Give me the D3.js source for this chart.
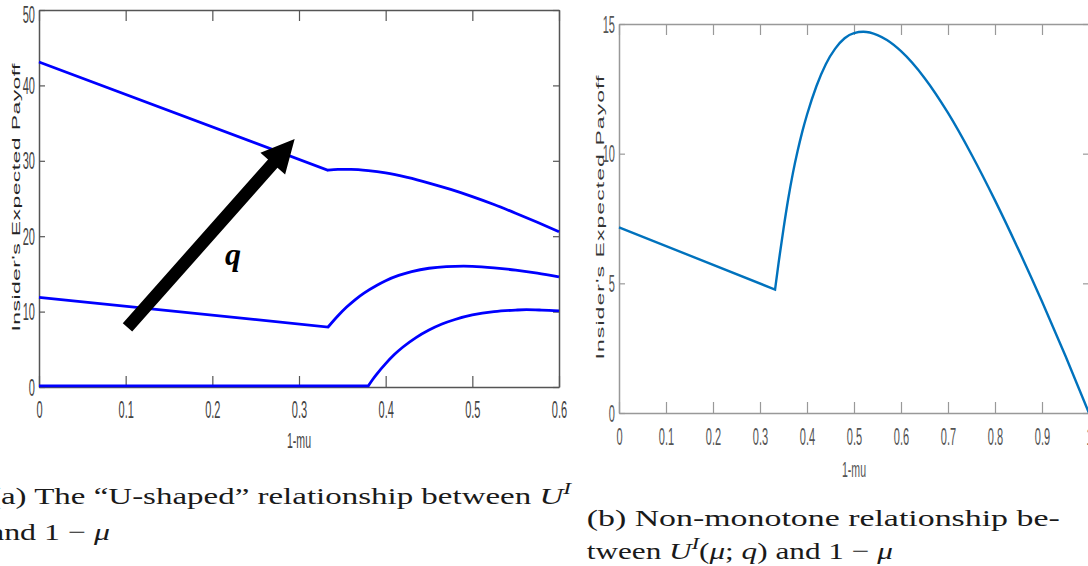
<!DOCTYPE html>
<html><head><meta charset="utf-8">
<script src="https://cdn.jsdelivr.net/npm/d3@7"></script>
<style>html,body{margin:0;padding:0;background:#fff;overflow:hidden}text{white-space:pre}</style>
</head><body><svg id="c" width="1088" height="566"></svg>
<script>
// ---------- data ----------
const xTicksA = [0, 0.1, 0.2, 0.3, 0.4, 0.5, 0.6];
const yTicksA = [0, 10, 20, 30, 40, 50];
const xTicksB = [0, 0.1, 0.2, 0.3, 0.4, 0.5, 0.6, 0.7, 0.8, 0.9, 1];
const yTicksB = [0, 5, 10, 15];
const xTitle = "1-mu";
const yTitle = "Insider's Expected Payoff";

// panel (a): three curves for increasing q  [1-mu, payoff]
const seriesTop = [[0,43.1],[0.3335,28.75],[0.345,28.85],[0.36,28.85],[0.38,28.7],[0.4,28.4],[0.425,27.8],[0.45,27.05],[0.475,26.2],[0.5,25.25],[0.525,24.2],[0.55,23.05],[0.575,21.85],[0.6,20.6]];
const seriesMid = [[0,11.9],[0.3335,7.95],[0.345,9.45],[0.355,10.6],[0.365,11.6],[0.375,12.45],[0.39,13.5],[0.4,14.1],[0.415,14.8],[0.43,15.3],[0.45,15.75],[0.47,15.97],[0.49,16.03],[0.5,16.0],[0.525,15.8],[0.55,15.5],[0.575,15.1],[0.6,14.6]];
const seriesLow = [[0,0.15],[0.38,0.15],[0.385,1.0],[0.39,1.75],[0.4,3.1],[0.41,4.3],[0.42,5.3],[0.435,6.55],[0.45,7.55],[0.465,8.35],[0.48,8.95],[0.5,9.55],[0.525,10.0],[0.55,10.2],[0.5625,10.25],[0.58,10.2],[0.6,10.1]];
// panel (b)
const seriesB = [[0,7.16],[0.332,4.76],[0.34,5.85],[0.35,7.1],[0.36,8.25],[0.37,9.25],[0.38,10.1],[0.39,10.85],[0.4,11.5],[0.42,12.6],[0.44,13.45],[0.46,14.05],[0.48,14.45],[0.5,14.65],[0.52,14.7],[0.55,14.57],[0.57,14.38],[0.6,13.95],[0.65,12.92],[0.7,11.57],[0.75,9.97],[0.8,8.2],[0.85,6.3],[0.9,4.3],[0.95,2.2],[1.0,0.0]];
const kinkIndex = 1; // every curve: straight piece up to point 1, smooth after

const arrowQ = [[0.1021, 7.9], [0.295, 32.9]];
const qLabel = {x: 0.2146, y: 16.2, text: "q"};

const captionA1 = [{t:"(a) The “U-shaped” relationship between "},{t:"U",i:1},{t:"I",i:1,sup:1}];
const captionA2 = [{t:"and 1 − "},{t:"μ",i:1}];
const captionB1 = [{t:"(b) Non-monotone relationship be-"}];
const captionB2 = [{t:"tween "},{t:"U",i:1},{t:"I",i:1,sup:1},{t:"("},{t:"μ",i:1},{t:"; "},{t:"q",i:1},{t:") and 1 − "},{t:"μ",i:1}];

// ---------- drawing ----------
const svg = d3.select("#c");
svg.append("rect").attr("width",1088).attr("height",566).attr("fill","#fff");
const SANS = "'Liberation Sans', Arial, sans-serif";
const SERIF = "'Liberation Serif', 'Times New Roman', serif";
const SQ = 0.48; // horizontal squeeze of the figure text

function panel(cfg){
  const x = d3.scaleLinear().domain(cfg.xDomain).range([cfg.left, cfg.right]);
  const y = d3.scaleLinear().domain(cfg.yDomain).range([cfg.bottom, cfg.top]);
  const g = svg.append("g");
  const styleAxis = (ax) => {
    ax.attr("font-family", SANS).attr("font-size", 23);
    ax.select(".domain").attr("stroke", cfg.axisColor).attr("stroke-width", 1.5);
    ax.selectAll(".tick line").attr("stroke", cfg.axisColor).attr("stroke-width", 1.2);
  };
  const fmt = d3.format("");
  const ab = g.append("g").attr("transform",`translate(0,${cfg.bottom})`)
    .call(d3.axisBottom(x).tickValues(cfg.xTicks).tickSizeInner(-11).tickSizeOuter(0).tickFormat(fmt));
  styleAxis(ab);
  ab.selectAll(".tick text").attr("y", cfg.xLabBase).attr("dy", null)
    .attr("transform", `scale(${SQ},1)`).attr("fill", cfg.textColor);
  const at = g.append("g").attr("transform",`translate(0,${cfg.top})`)
    .call(d3.axisTop(x).tickValues(cfg.xTicks).tickSizeInner(-11).tickSizeOuter(0).tickFormat(""));
  styleAxis(at);
  const al = g.append("g").attr("transform",`translate(${cfg.left},0)`)
    .call(d3.axisLeft(y).tickValues(cfg.yTicks).tickSizeInner(-6).tickSizeOuter(0).tickFormat(fmt));
  styleAxis(al);
  al.selectAll(".tick text").attr("x", -8.5)
    .attr("dy", d => (y(d) < 12 ? "0.55em" : "0.35em"))
    .attr("transform", `scale(${SQ},1)`).attr("fill", cfg.textColor);
  const ar = g.append("g").attr("transform",`translate(${cfg.right},0)`)
    .call(d3.axisRight(y).tickValues(cfg.yTicks).tickSizeInner(-6).tickSizeOuter(0).tickFormat(""));
  styleAxis(ar);

  // axis titles
  g.append("text").text(xTitle)
    .attr("transform", `translate(${x(cfg.xTitleAt)},${cfg.xTitleBase}) scale(${SQ},1)`)
    .attr("text-anchor","middle").attr("font-family",SANS).attr("font-size",22).attr("fill",cfg.textColor);
  g.append("text").text(yTitle)
    .attr("transform", `translate(${cfg.yTitleX},${cfg.yTitleY}) scale(${SQ},1) rotate(-90)`)
    .attr("text-anchor","middle").attr("font-family",SANS).attr("font-size",23)
    .attr("textLength", cfg.yTitleLen).attr("lengthAdjust","spacing").attr("fill",cfg.titleColor);

  // curves
  const line = d3.line().x(d=>x(d[0])).y(d=>y(d[1])).curve(d3.curveMonotoneX);
  cfg.series.forEach(s => {
    const p1 = line(s.slice(0, kinkIndex+1));
    const p2 = line(s.slice(kinkIndex)).replace(/^M/, "L");
    g.append("path").attr("d", p1 + p2).attr("fill","none")
      .attr("stroke", cfg.lineColor).attr("stroke-width", cfg.lineWidth)
      .attr("stroke-linejoin","miter").attr("stroke-linecap","butt");
  });
  return {x, y, g};
}

const A = panel({
  xDomain:[0,0.6], yDomain:[0,50], left:39, right:559, top:10, bottom:387,
  xTicks:xTicksA, yTicks:yTicksA, axisColor:"#555", textColor:"#444", titleColor:"#222",
  xLabBase:31, xTitleAt:0.3, xTitleBase:448, yTitleX:20, yTitleY:197.5, yTitleLen:268,
  series:[seriesTop, seriesMid, seriesLow], lineColor:"#0000ff", lineWidth:2.8
});
const B = panel({
  xDomain:[0,1], yDomain:[0,15], left:619, right:1089, top:24, bottom:413,
  xTicks:xTicksB, yTicks:yTicksB, axisColor:"#999", textColor:"#555", titleColor:"#333",
  xLabBase:32, xTitleAt:0.5, xTitleBase:477, yTitleX:603.5, yTitleY:217.5, yTitleLen:284,
  series:[seriesB], lineColor:"#0072BD", lineWidth:2.4
});

// arrow annotation in panel (a)
(function(){
  const p0 = [A.x(arrowQ[0][0]), A.y(arrowQ[0][1])];
  const p1 = [A.x(arrowQ[1][0]), A.y(arrowQ[1][1])];
  const dx = p1[0]-p0[0], dy = p1[1]-p0[1], L = Math.hypot(dx,dy);
  const u = [dx/L, dy/L], n = [-u[1], u[0]];
  const sw = 6.3, hl = 33, hw = 16.5;
  const b = [p1[0]-u[0]*hl, p1[1]-u[1]*hl];
  const pts = [
    [p0[0]+n[0]*sw, p0[1]+n[1]*sw],
    [b[0]+n[0]*sw, b[1]+n[1]*sw],
    [b[0]+n[0]*hw, b[1]+n[1]*hw],
    p1,
    [b[0]-n[0]*hw, b[1]-n[1]*hw],
    [b[0]-n[0]*sw, b[1]-n[1]*sw],
    [p0[0]-n[0]*sw, p0[1]-n[1]*sw]
  ];
  A.g.append("path").attr("d", d3.line()(pts)+"Z").attr("fill","#000");
  A.g.append("text").text(qLabel.text).attr("x", A.x(qLabel.x)).attr("y", A.y(qLabel.y))
    .attr("font-family", SERIF).attr("font-style","italic").attr("font-weight","bold")
    .attr("font-size", 32).attr("fill","#000");
})();

// captions
function caption(parts, x0, x1, base){
  const t = svg.append("text").attr("font-family", SERIF).attr("font-size", 24).attr("fill","#1a1a1a");
  let raised = false;
  parts.forEach(p => {
    const ts = t.append("tspan").text(p.t);
    if (p.i) ts.attr("font-style","italic");
    if (p.sup){ ts.attr("font-size",17).attr("dy",-10); raised = true; }
    else if (raised){ ts.attr("dy",10); raised = false; }
  });
  const bb = t.node().getBBox();
  const s = (x1-x0)/bb.width;
  t.attr("transform", `translate(${x0 - bb.x*s},${base}) scale(${s},1)`);
}
caption(captionA1, -10, 573, 504);
caption(captionA2, -10, 110, 540);
caption(captionB1, 586.7, 1060, 526);
caption(captionB2, 586.7, 893, 559);
</script></body></html>
